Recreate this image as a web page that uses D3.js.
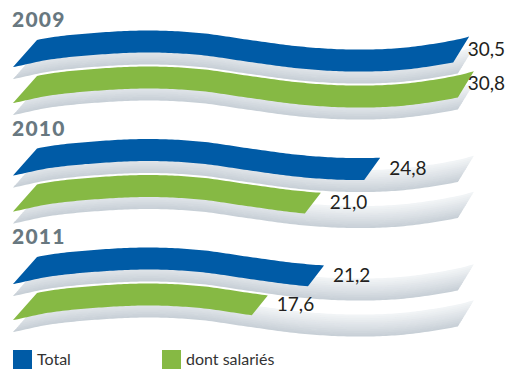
<!DOCTYPE html>
<html>
<head>
<meta charset="utf-8">
<script src="https://cdn.jsdelivr.net/npm/d3@7"></script>
<style>
  body { margin: 0; background: #fff; }
  svg { display: block; font-family: Lato, "Open Sans", sans-serif; }
</style>
</head>
<body>
<svg width="507" height="369"></svg>
<script>
// data
var years = ["2009", "2010", "2011"];
var seriesNames = ["Total", "dont salariés"];
var totalValues = [30.5, 24.8, 21.2];
var salariesValues = [30.8, 21.0, 17.6];
var seriesColors = ["#005ba6", "#86b944"];

// wave profile of the ribbons (top edge offset, one knot every 50px)
var waveStep = 50;
var waveY = [47, 37.5, 32.5, 30.5, 33, 40, 46.5, 49.5, 48, 41, 30];

var svg = d3.select("svg"),
    width = +svg.attr("width"),
    bandH = 22,
    xLeft = 37,
    shearL = 24,
    shearR = 16;

var x = d3.scaleLinear().domain([0, 31]).range([-7, 477]);
var row = d3.scalePoint().domain(years).range([0, 217]);
var sub = d3.scalePoint().domain(seriesNames).range([0, 36]);
var color = d3.scaleOrdinal().domain(seriesNames).range(seriesColors);
var fmt = function(v) { return d3.format(".1f")(v).replace(".", ","); };

function wave(px) {
  var n = waveY.length;
  var i = Math.max(0, Math.min(n - 2, Math.floor(px / waveStep)));
  var t = (px - i * waveStep) / waveStep;
  var p0 = waveY[Math.max(i - 1, 0)], p1 = waveY[i], p2 = waveY[i + 1], p3 = waveY[Math.min(i + 2, n - 1)];
  return 0.5 * (2 * p1 + (-p0 + p2) * t + (2 * p0 - 5 * p1 + 4 * p2 - p3) * t * t +
    (-p0 + 3 * p1 - 3 * p2 + p3) * t * t * t);
}

var line = d3.line();

// ribbon between offsets a and b (0..bandH) of the band, ending at xEnd (top edge)
function ribbon(yBase, xEnd, a, b) {
  var l0 = xLeft - shearL * a / bandH, r0 = xEnd - shearR * a / bandH,
      l1 = xLeft - shearL * b / bandH, r1 = xEnd - shearR * b / bandH;
  var pts = [];
  d3.range(l0, r0, 3).concat([r0]).forEach(function(px) { pts.push([px, yBase + wave(px) + a]); });
  d3.range(r1, l1, -3).concat([l1]).forEach(function(px) { pts.push([px, yBase + wave(px) + b]); });
  return line(pts) + "Z";
}

var rows = years.map(function(y, i) {
  return { year: y, values: [
    { name: seriesNames[0], value: totalValues[i] },
    { name: seriesNames[1], value: salariesValues[i] }
  ] };
});
var maxValue = d3.max(totalValues.concat(salariesValues));

var defs = svg.append("defs");
defs.append("filter").attr("id", "soft")
  .attr("x", "-5%").attr("y", "-30%").attr("width", "110%").attr("height", "160%")
  .append("feGaussianBlur").attr("stdDeviation", 0.7);

var ghostColor = d3.interpolateRgb("#f4f6f8", "#c8d0d7");
var slices = d3.range(12);
var ghostDy = 12;

var g = svg.selectAll("g.row")
  .data(rows)
  .enter().append("g")
    .attr("class", "row")
    .attr("transform", function(d) { return "translate(0," + row(d.year) + ")"; });

// grey shadow ribbons (full length)
g.each(function(d) {
  var shadow = d3.select(this).append("g").attr("filter", "url(#soft)");
  d.values.forEach(function(s) {
    var yb = sub(s.name) + ghostDy;
    shadow.selectAll(null)
      .data(slices)
      .enter().append("path")
        .attr("d", function(k) {
          var a = bandH * k / slices.length, b = Math.min(bandH, bandH * (k + 1) / slices.length + 0.6);
          return ribbon(yb, x(maxValue), a, b);
        })
        .attr("fill", function(k) { return ghostColor(Math.pow((k + 1) / slices.length, 1.1)); });
  });
});

// bars
g.selectAll("path.bar")
  .data(function(d) { return d.values; })
  .enter().append("path")
    .attr("class", "bar")
    .attr("d", function(s) { return ribbon(sub(s.name), x(s.value), 0, bandH); })
    .attr("fill", function(s) { return color(s.name); });

// value labels
g.selectAll("text.value")
  .data(function(d) { return d.values; })
  .enter().append("text")
    .attr("class", "value")
    .attr("x", function(s) { return x(s.value) + 9; })
    .attr("y", function(s) { return sub(s.name) + wave(x(s.value) - 8) + bandH / 2 + 6; })
    .attr("font-size", 19)
    .attr("fill", "#231f20")
    .text(function(s) { return fmt(s.value); })
    .each(function() {
      var w = this.getComputedTextLength(), t = d3.select(this);
      if (+t.attr("x") + w > width - 2) t.attr("x", width - 2 - w);
    });

// year titles
g.append("text")
    .attr("x", 12)
    .attr("y", 27)
    .attr("font-size", 21)
    .attr("font-weight", 900)
    .attr("letter-spacing", 1.2)
    .attr("fill", "#687880")
    .text(function(d) { return d.year; });

// legend
var legend = svg.selectAll("g.legend")
  .data(seriesNames)
  .enter().append("g")
    .attr("class", "legend")
    .attr("transform", function(d, i) { return "translate(" + (13 + i * 149) + ",350)"; });

legend.append("rect")
    .attr("width", 19)
    .attr("height", 19)
    .attr("fill", function(d) { return color(d); });

legend.append("text")
    .attr("x", 24)
    .attr("y", 15)
    .attr("font-size", 16)
    .attr("fill", "#333")
    .text(function(d) { return d; });
</script>
</body>
</html>
